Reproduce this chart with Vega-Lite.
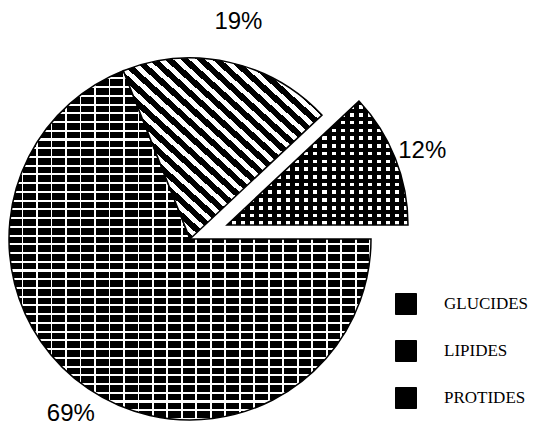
{
"$schema": "https://vega.github.io/schema/vega-lite/v6.json",
"width": 380, "height": 362,
"autosize": {"type": "none"},
"padding": {"left": 0, "top": 58, "right": 156, "bottom": 6},
"background": "white",
"config": {"view": {"stroke": null}},
"data": {"values": [
 {"nutrient": "LIPIDES", "value": 19, "order": 1, "label": "19%"},
 {"nutrient": "PROTIDES", "value": 12, "order": 2, "label": "12%"},
 {"nutrient": "GLUCIDES", "value": 69, "order": 3, "label": "69%"}
]},
"transform": [{"stack": "value", "groupby": [], "sort": [{"field": "order", "order": "ascending"}], "as": ["v0", "v1"]}],
"layer": [
 {"transform": [{"filter": "datum.nutrient == 'GLUCIDES'"}],
  "mark": {"type": "arc", "outerRadius": 181,
   "fill": {"gradient": "linear", "x1": 0, "y1": 0, "x2": 0, "y2": 1, "stops": [
{"offset":0,"color":"#000"},{"offset":0.019,"color":"#000"},{"offset":0.019,"color":"#fff"},{"offset":0.025,"color":"#fff"},
{"offset":0.025,"color":"#000"},{"offset":0.044,"color":"#000"},{"offset":0.044,"color":"#fff"},{"offset":0.05,"color":"#fff"},
{"offset":0.05,"color":"#000"},{"offset":0.069,"color":"#000"},{"offset":0.069,"color":"#fff"},{"offset":0.075,"color":"#fff"},
{"offset":0.075,"color":"#000"},{"offset":0.094,"color":"#000"},{"offset":0.094,"color":"#fff"},{"offset":0.1,"color":"#fff"},
{"offset":0.1,"color":"#000"},{"offset":0.119,"color":"#000"},{"offset":0.119,"color":"#fff"},{"offset":0.125,"color":"#fff"},
{"offset":0.125,"color":"#000"},{"offset":0.144,"color":"#000"},{"offset":0.144,"color":"#fff"},{"offset":0.15,"color":"#fff"},
{"offset":0.15,"color":"#000"},{"offset":0.169,"color":"#000"},{"offset":0.169,"color":"#fff"},{"offset":0.175,"color":"#fff"},
{"offset":0.175,"color":"#000"},{"offset":0.194,"color":"#000"},{"offset":0.194,"color":"#fff"},{"offset":0.2,"color":"#fff"},
{"offset":0.2,"color":"#000"},{"offset":0.219,"color":"#000"},{"offset":0.219,"color":"#fff"},{"offset":0.225,"color":"#fff"},
{"offset":0.225,"color":"#000"},{"offset":0.244,"color":"#000"},{"offset":0.244,"color":"#fff"},{"offset":0.25,"color":"#fff"},
{"offset":0.25,"color":"#000"},{"offset":0.269,"color":"#000"},{"offset":0.269,"color":"#fff"},{"offset":0.275,"color":"#fff"},
{"offset":0.275,"color":"#000"},{"offset":0.294,"color":"#000"},{"offset":0.294,"color":"#fff"},{"offset":0.3,"color":"#fff"},
{"offset":0.3,"color":"#000"},{"offset":0.319,"color":"#000"},{"offset":0.319,"color":"#fff"},{"offset":0.325,"color":"#fff"},
{"offset":0.325,"color":"#000"},{"offset":0.344,"color":"#000"},{"offset":0.344,"color":"#fff"},{"offset":0.35,"color":"#fff"},
{"offset":0.35,"color":"#000"},{"offset":0.369,"color":"#000"},{"offset":0.369,"color":"#fff"},{"offset":0.375,"color":"#fff"},
{"offset":0.375,"color":"#000"},{"offset":0.394,"color":"#000"},{"offset":0.394,"color":"#fff"},{"offset":0.4,"color":"#fff"},
{"offset":0.4,"color":"#000"},{"offset":0.419,"color":"#000"},{"offset":0.419,"color":"#fff"},{"offset":0.425,"color":"#fff"},
{"offset":0.425,"color":"#000"},{"offset":0.444,"color":"#000"},{"offset":0.444,"color":"#fff"},{"offset":0.45,"color":"#fff"},
{"offset":0.45,"color":"#000"},{"offset":0.469,"color":"#000"},{"offset":0.469,"color":"#fff"},{"offset":0.475,"color":"#fff"},
{"offset":0.475,"color":"#000"},{"offset":0.494,"color":"#000"},{"offset":0.494,"color":"#fff"},{"offset":0.5,"color":"#fff"},
{"offset":0.5,"color":"#000"},{"offset":0.519,"color":"#000"},{"offset":0.519,"color":"#fff"},{"offset":0.525,"color":"#fff"},
{"offset":0.525,"color":"#000"},{"offset":0.544,"color":"#000"},{"offset":0.544,"color":"#fff"},{"offset":0.55,"color":"#fff"},
{"offset":0.55,"color":"#000"},{"offset":0.569,"color":"#000"},{"offset":0.569,"color":"#fff"},{"offset":0.575,"color":"#fff"},
{"offset":0.575,"color":"#000"},{"offset":0.594,"color":"#000"},{"offset":0.594,"color":"#fff"},{"offset":0.6,"color":"#fff"},
{"offset":0.6,"color":"#000"},{"offset":0.619,"color":"#000"},{"offset":0.619,"color":"#fff"},{"offset":0.625,"color":"#fff"},
{"offset":0.625,"color":"#000"},{"offset":0.644,"color":"#000"},{"offset":0.644,"color":"#fff"},{"offset":0.65,"color":"#fff"},
{"offset":0.65,"color":"#000"},{"offset":0.669,"color":"#000"},{"offset":0.669,"color":"#fff"},{"offset":0.675,"color":"#fff"},
{"offset":0.675,"color":"#000"},{"offset":0.694,"color":"#000"},{"offset":0.694,"color":"#fff"},{"offset":0.7,"color":"#fff"},
{"offset":0.7,"color":"#000"},{"offset":0.719,"color":"#000"},{"offset":0.719,"color":"#fff"},{"offset":0.725,"color":"#fff"},
{"offset":0.725,"color":"#000"},{"offset":0.744,"color":"#000"},{"offset":0.744,"color":"#fff"},{"offset":0.75,"color":"#fff"},
{"offset":0.75,"color":"#000"},{"offset":0.769,"color":"#000"},{"offset":0.769,"color":"#fff"},{"offset":0.775,"color":"#fff"},
{"offset":0.775,"color":"#000"},{"offset":0.794,"color":"#000"},{"offset":0.794,"color":"#fff"},{"offset":0.8,"color":"#fff"},
{"offset":0.8,"color":"#000"},{"offset":0.819,"color":"#000"},{"offset":0.819,"color":"#fff"},{"offset":0.825,"color":"#fff"},
{"offset":0.825,"color":"#000"},{"offset":0.844,"color":"#000"},{"offset":0.844,"color":"#fff"},{"offset":0.85,"color":"#fff"},
{"offset":0.85,"color":"#000"},{"offset":0.869,"color":"#000"},{"offset":0.869,"color":"#fff"},{"offset":0.875,"color":"#fff"},
{"offset":0.875,"color":"#000"},{"offset":0.894,"color":"#000"},{"offset":0.894,"color":"#fff"},{"offset":0.9,"color":"#fff"},
{"offset":0.9,"color":"#000"},{"offset":0.919,"color":"#000"},{"offset":0.919,"color":"#fff"},{"offset":0.925,"color":"#fff"},
{"offset":0.925,"color":"#000"},{"offset":0.944,"color":"#000"},{"offset":0.944,"color":"#fff"},{"offset":0.95,"color":"#fff"},
{"offset":0.95,"color":"#000"},{"offset":0.969,"color":"#000"},{"offset":0.969,"color":"#fff"},{"offset":0.975,"color":"#fff"},
{"offset":0.975,"color":"#000"},{"offset":0.994,"color":"#000"},{"offset":0.994,"color":"#fff"},{"offset":1,"color":"#fff"}
   ]}},
  "encoding": {
   "theta": {"field": "v0", "type": "quantitative", "scale": {"domain": [0, 100], "range": [-0.37699, 5.90619]}},
   "theta2": {"field": "v1"}
  }
 },
 {"transform": [{"filter": "datum.nutrient == 'GLUCIDES'"}],
  "mark": {"type": "arc", "outerRadius": 181, "stroke": "black", "strokeWidth": 1.5,
   "fill": {"gradient": "linear", "x1": 0, "y1": 0, "x2": 1, "y2": 0, "stops": [
{"offset":0,"color":"rgba(0,0,0,0)"},{"offset":0.035,"color":"rgba(0,0,0,0)"},{"offset":0.035,"color":"#fff"},{"offset":0.04,"color":"#fff"},
{"offset":0.04,"color":"rgba(0,0,0,0)"},{"offset":0.075,"color":"rgba(0,0,0,0)"},{"offset":0.075,"color":"#fff"},{"offset":0.08,"color":"#fff"},
{"offset":0.08,"color":"rgba(0,0,0,0)"},{"offset":0.115,"color":"rgba(0,0,0,0)"},{"offset":0.115,"color":"#fff"},{"offset":0.12,"color":"#fff"},
{"offset":0.12,"color":"rgba(0,0,0,0)"},{"offset":0.155,"color":"rgba(0,0,0,0)"},{"offset":0.155,"color":"#fff"},{"offset":0.16,"color":"#fff"},
{"offset":0.16,"color":"rgba(0,0,0,0)"},{"offset":0.195,"color":"rgba(0,0,0,0)"},{"offset":0.195,"color":"#fff"},{"offset":0.2,"color":"#fff"},
{"offset":0.2,"color":"rgba(0,0,0,0)"},{"offset":0.235,"color":"rgba(0,0,0,0)"},{"offset":0.235,"color":"#fff"},{"offset":0.24,"color":"#fff"},
{"offset":0.24,"color":"rgba(0,0,0,0)"},{"offset":0.275,"color":"rgba(0,0,0,0)"},{"offset":0.275,"color":"#fff"},{"offset":0.28,"color":"#fff"},
{"offset":0.28,"color":"rgba(0,0,0,0)"},{"offset":0.315,"color":"rgba(0,0,0,0)"},{"offset":0.315,"color":"#fff"},{"offset":0.32,"color":"#fff"},
{"offset":0.32,"color":"rgba(0,0,0,0)"},{"offset":0.355,"color":"rgba(0,0,0,0)"},{"offset":0.355,"color":"#fff"},{"offset":0.36,"color":"#fff"},
{"offset":0.36,"color":"rgba(0,0,0,0)"},{"offset":0.395,"color":"rgba(0,0,0,0)"},{"offset":0.395,"color":"#fff"},{"offset":0.4,"color":"#fff"},
{"offset":0.4,"color":"rgba(0,0,0,0)"},{"offset":0.435,"color":"rgba(0,0,0,0)"},{"offset":0.435,"color":"#fff"},{"offset":0.44,"color":"#fff"},
{"offset":0.44,"color":"rgba(0,0,0,0)"},{"offset":0.475,"color":"rgba(0,0,0,0)"},{"offset":0.475,"color":"#fff"},{"offset":0.48,"color":"#fff"},
{"offset":0.48,"color":"rgba(0,0,0,0)"},{"offset":0.515,"color":"rgba(0,0,0,0)"},{"offset":0.515,"color":"#fff"},{"offset":0.52,"color":"#fff"},
{"offset":0.52,"color":"rgba(0,0,0,0)"},{"offset":0.555,"color":"rgba(0,0,0,0)"},{"offset":0.555,"color":"#fff"},{"offset":0.56,"color":"#fff"},
{"offset":0.56,"color":"rgba(0,0,0,0)"},{"offset":0.595,"color":"rgba(0,0,0,0)"},{"offset":0.595,"color":"#fff"},{"offset":0.6,"color":"#fff"},
{"offset":0.6,"color":"rgba(0,0,0,0)"},{"offset":0.635,"color":"rgba(0,0,0,0)"},{"offset":0.635,"color":"#fff"},{"offset":0.64,"color":"#fff"},
{"offset":0.64,"color":"rgba(0,0,0,0)"},{"offset":0.675,"color":"rgba(0,0,0,0)"},{"offset":0.675,"color":"#fff"},{"offset":0.68,"color":"#fff"},
{"offset":0.68,"color":"rgba(0,0,0,0)"},{"offset":0.715,"color":"rgba(0,0,0,0)"},{"offset":0.715,"color":"#fff"},{"offset":0.72,"color":"#fff"},
{"offset":0.72,"color":"rgba(0,0,0,0)"},{"offset":0.755,"color":"rgba(0,0,0,0)"},{"offset":0.755,"color":"#fff"},{"offset":0.76,"color":"#fff"},
{"offset":0.76,"color":"rgba(0,0,0,0)"},{"offset":0.795,"color":"rgba(0,0,0,0)"},{"offset":0.795,"color":"#fff"},{"offset":0.8,"color":"#fff"},
{"offset":0.8,"color":"rgba(0,0,0,0)"},{"offset":0.835,"color":"rgba(0,0,0,0)"},{"offset":0.835,"color":"#fff"},{"offset":0.84,"color":"#fff"},
{"offset":0.84,"color":"rgba(0,0,0,0)"},{"offset":0.875,"color":"rgba(0,0,0,0)"},{"offset":0.875,"color":"#fff"},{"offset":0.88,"color":"#fff"},
{"offset":0.88,"color":"rgba(0,0,0,0)"},{"offset":0.915,"color":"rgba(0,0,0,0)"},{"offset":0.915,"color":"#fff"},{"offset":0.92,"color":"#fff"},
{"offset":0.92,"color":"rgba(0,0,0,0)"},{"offset":0.955,"color":"rgba(0,0,0,0)"},{"offset":0.955,"color":"#fff"},{"offset":0.96,"color":"#fff"},
{"offset":0.96,"color":"rgba(0,0,0,0)"},{"offset":0.995,"color":"rgba(0,0,0,0)"},{"offset":0.995,"color":"#fff"},{"offset":1,"color":"#fff"}
   ]}},
  "encoding": {
   "theta": {"field": "v0", "type": "quantitative", "scale": {"domain": [0, 100], "range": [-0.37699, 5.90619]}},
   "theta2": {"field": "v1"}
  }
 },
 {"transform": [{"filter": "datum.nutrient == 'LIPIDES'"}],
  "mark": {"type": "arc", "outerRadius": 181, "stroke": "black", "strokeWidth": 1.5,
   "fill": {"gradient": "linear", "x1": 0, "y1": 1, "x2": 1, "y2": 0, "stops": [
{"offset":0,"color":"#000"},{"offset":0.022,"color":"#000"},{"offset":0.022,"color":"#fff"},{"offset":0.04,"color":"#fff"},
{"offset":0.04,"color":"#000"},{"offset":0.062,"color":"#000"},{"offset":0.062,"color":"#fff"},{"offset":0.08,"color":"#fff"},
{"offset":0.08,"color":"#000"},{"offset":0.102,"color":"#000"},{"offset":0.102,"color":"#fff"},{"offset":0.12,"color":"#fff"},
{"offset":0.12,"color":"#000"},{"offset":0.142,"color":"#000"},{"offset":0.142,"color":"#fff"},{"offset":0.16,"color":"#fff"},
{"offset":0.16,"color":"#000"},{"offset":0.182,"color":"#000"},{"offset":0.182,"color":"#fff"},{"offset":0.2,"color":"#fff"},
{"offset":0.2,"color":"#000"},{"offset":0.222,"color":"#000"},{"offset":0.222,"color":"#fff"},{"offset":0.24,"color":"#fff"},
{"offset":0.24,"color":"#000"},{"offset":0.262,"color":"#000"},{"offset":0.262,"color":"#fff"},{"offset":0.28,"color":"#fff"},
{"offset":0.28,"color":"#000"},{"offset":0.302,"color":"#000"},{"offset":0.302,"color":"#fff"},{"offset":0.32,"color":"#fff"},
{"offset":0.32,"color":"#000"},{"offset":0.342,"color":"#000"},{"offset":0.342,"color":"#fff"},{"offset":0.36,"color":"#fff"},
{"offset":0.36,"color":"#000"},{"offset":0.382,"color":"#000"},{"offset":0.382,"color":"#fff"},{"offset":0.4,"color":"#fff"},
{"offset":0.4,"color":"#000"},{"offset":0.422,"color":"#000"},{"offset":0.422,"color":"#fff"},{"offset":0.44,"color":"#fff"},
{"offset":0.44,"color":"#000"},{"offset":0.462,"color":"#000"},{"offset":0.462,"color":"#fff"},{"offset":0.48,"color":"#fff"},
{"offset":0.48,"color":"#000"},{"offset":0.502,"color":"#000"},{"offset":0.502,"color":"#fff"},{"offset":0.52,"color":"#fff"},
{"offset":0.52,"color":"#000"},{"offset":0.542,"color":"#000"},{"offset":0.542,"color":"#fff"},{"offset":0.56,"color":"#fff"},
{"offset":0.56,"color":"#000"},{"offset":0.582,"color":"#000"},{"offset":0.582,"color":"#fff"},{"offset":0.6,"color":"#fff"},
{"offset":0.6,"color":"#000"},{"offset":0.622,"color":"#000"},{"offset":0.622,"color":"#fff"},{"offset":0.64,"color":"#fff"},
{"offset":0.64,"color":"#000"},{"offset":0.662,"color":"#000"},{"offset":0.662,"color":"#fff"},{"offset":0.68,"color":"#fff"},
{"offset":0.68,"color":"#000"},{"offset":0.702,"color":"#000"},{"offset":0.702,"color":"#fff"},{"offset":0.72,"color":"#fff"},
{"offset":0.72,"color":"#000"},{"offset":0.742,"color":"#000"},{"offset":0.742,"color":"#fff"},{"offset":0.76,"color":"#fff"},
{"offset":0.76,"color":"#000"},{"offset":0.782,"color":"#000"},{"offset":0.782,"color":"#fff"},{"offset":0.8,"color":"#fff"},
{"offset":0.8,"color":"#000"},{"offset":0.822,"color":"#000"},{"offset":0.822,"color":"#fff"},{"offset":0.84,"color":"#fff"},
{"offset":0.84,"color":"#000"},{"offset":0.862,"color":"#000"},{"offset":0.862,"color":"#fff"},{"offset":0.88,"color":"#fff"},
{"offset":0.88,"color":"#000"},{"offset":0.902,"color":"#000"},{"offset":0.902,"color":"#fff"},{"offset":0.92,"color":"#fff"},
{"offset":0.92,"color":"#000"},{"offset":0.942,"color":"#000"},{"offset":0.942,"color":"#fff"},{"offset":0.96,"color":"#fff"},
{"offset":0.96,"color":"#000"},{"offset":0.982,"color":"#000"},{"offset":0.982,"color":"#fff"},{"offset":1,"color":"#fff"}
   ]}},
  "encoding": {
   "theta": {"field": "v0", "type": "quantitative", "scale": {"domain": [0, 100], "range": [-0.37699, 5.90619]}},
   "theta2": {"field": "v1"}
  }
 },
 {"transform": [{"filter": "datum.nutrient == 'PROTIDES'"}],
  "mark": {"type": "arc", "outerRadius": 181, "xOffset": 37, "yOffset": -14,
   "fill": {"gradient": "linear", "x1": 0, "y1": 0, "x2": 0, "y2": 1, "stops": [
{"offset":0,"color":"#000"},{"offset":0.034,"color":"#000"},{"offset":0.034,"color":"#fff"},{"offset":0.0625,"color":"#fff"},
{"offset":0.0625,"color":"#000"},{"offset":0.0965,"color":"#000"},{"offset":0.0965,"color":"#fff"},{"offset":0.125,"color":"#fff"},
{"offset":0.125,"color":"#000"},{"offset":0.159,"color":"#000"},{"offset":0.159,"color":"#fff"},{"offset":0.1875,"color":"#fff"},
{"offset":0.1875,"color":"#000"},{"offset":0.2215,"color":"#000"},{"offset":0.2215,"color":"#fff"},{"offset":0.25,"color":"#fff"},
{"offset":0.25,"color":"#000"},{"offset":0.284,"color":"#000"},{"offset":0.284,"color":"#fff"},{"offset":0.3125,"color":"#fff"},
{"offset":0.3125,"color":"#000"},{"offset":0.3465,"color":"#000"},{"offset":0.3465,"color":"#fff"},{"offset":0.375,"color":"#fff"},
{"offset":0.375,"color":"#000"},{"offset":0.409,"color":"#000"},{"offset":0.409,"color":"#fff"},{"offset":0.4375,"color":"#fff"},
{"offset":0.4375,"color":"#000"},{"offset":0.4715,"color":"#000"},{"offset":0.4715,"color":"#fff"},{"offset":0.5,"color":"#fff"},
{"offset":0.5,"color":"#000"},{"offset":0.534,"color":"#000"},{"offset":0.534,"color":"#fff"},{"offset":0.5625,"color":"#fff"},
{"offset":0.5625,"color":"#000"},{"offset":0.5965,"color":"#000"},{"offset":0.5965,"color":"#fff"},{"offset":0.625,"color":"#fff"},
{"offset":0.625,"color":"#000"},{"offset":0.659,"color":"#000"},{"offset":0.659,"color":"#fff"},{"offset":0.6875,"color":"#fff"},
{"offset":0.6875,"color":"#000"},{"offset":0.7215,"color":"#000"},{"offset":0.7215,"color":"#fff"},{"offset":0.75,"color":"#fff"},
{"offset":0.75,"color":"#000"},{"offset":0.784,"color":"#000"},{"offset":0.784,"color":"#fff"},{"offset":0.8125,"color":"#fff"},
{"offset":0.8125,"color":"#000"},{"offset":0.8465,"color":"#000"},{"offset":0.8465,"color":"#fff"},{"offset":0.875,"color":"#fff"},
{"offset":0.875,"color":"#000"},{"offset":0.909,"color":"#000"},{"offset":0.909,"color":"#fff"},{"offset":0.9375,"color":"#fff"},
{"offset":0.9375,"color":"#000"},{"offset":0.9715,"color":"#000"},{"offset":0.9715,"color":"#fff"},{"offset":1,"color":"#fff"}
   ]}},
  "encoding": {
   "theta": {"field": "v0", "type": "quantitative", "scale": {"domain": [0, 100], "range": [-0.37699, 5.90619]}},
   "theta2": {"field": "v1"}
  }
 },
 {"transform": [{"filter": "datum.nutrient == 'PROTIDES'"}],
  "mark": {"type": "arc", "outerRadius": 181, "xOffset": 37, "yOffset": -14, "stroke": "black", "strokeWidth": 1.5,
   "fill": {"gradient": "linear", "x1": 0, "y1": 0, "x2": 1, "y2": 0, "stops": [
{"offset":0,"color":"#000"},{"offset":0.0275,"color":"#000"},{"offset":0.0275,"color":"rgba(0,0,0,0)"},{"offset":0.05,"color":"rgba(0,0,0,0)"},
{"offset":0.05,"color":"#000"},{"offset":0.0775,"color":"#000"},{"offset":0.0775,"color":"rgba(0,0,0,0)"},{"offset":0.1,"color":"rgba(0,0,0,0)"},
{"offset":0.1,"color":"#000"},{"offset":0.1275,"color":"#000"},{"offset":0.1275,"color":"rgba(0,0,0,0)"},{"offset":0.15,"color":"rgba(0,0,0,0)"},
{"offset":0.15,"color":"#000"},{"offset":0.1775,"color":"#000"},{"offset":0.1775,"color":"rgba(0,0,0,0)"},{"offset":0.2,"color":"rgba(0,0,0,0)"},
{"offset":0.2,"color":"#000"},{"offset":0.2275,"color":"#000"},{"offset":0.2275,"color":"rgba(0,0,0,0)"},{"offset":0.25,"color":"rgba(0,0,0,0)"},
{"offset":0.25,"color":"#000"},{"offset":0.2775,"color":"#000"},{"offset":0.2775,"color":"rgba(0,0,0,0)"},{"offset":0.3,"color":"rgba(0,0,0,0)"},
{"offset":0.3,"color":"#000"},{"offset":0.3275,"color":"#000"},{"offset":0.3275,"color":"rgba(0,0,0,0)"},{"offset":0.35,"color":"rgba(0,0,0,0)"},
{"offset":0.35,"color":"#000"},{"offset":0.3775,"color":"#000"},{"offset":0.3775,"color":"rgba(0,0,0,0)"},{"offset":0.4,"color":"rgba(0,0,0,0)"},
{"offset":0.4,"color":"#000"},{"offset":0.4275,"color":"#000"},{"offset":0.4275,"color":"rgba(0,0,0,0)"},{"offset":0.45,"color":"rgba(0,0,0,0)"},
{"offset":0.45,"color":"#000"},{"offset":0.4775,"color":"#000"},{"offset":0.4775,"color":"rgba(0,0,0,0)"},{"offset":0.5,"color":"rgba(0,0,0,0)"},
{"offset":0.5,"color":"#000"},{"offset":0.5275,"color":"#000"},{"offset":0.5275,"color":"rgba(0,0,0,0)"},{"offset":0.55,"color":"rgba(0,0,0,0)"},
{"offset":0.55,"color":"#000"},{"offset":0.5775,"color":"#000"},{"offset":0.5775,"color":"rgba(0,0,0,0)"},{"offset":0.6,"color":"rgba(0,0,0,0)"},
{"offset":0.6,"color":"#000"},{"offset":0.6275,"color":"#000"},{"offset":0.6275,"color":"rgba(0,0,0,0)"},{"offset":0.65,"color":"rgba(0,0,0,0)"},
{"offset":0.65,"color":"#000"},{"offset":0.6775,"color":"#000"},{"offset":0.6775,"color":"rgba(0,0,0,0)"},{"offset":0.7,"color":"rgba(0,0,0,0)"},
{"offset":0.7,"color":"#000"},{"offset":0.7275,"color":"#000"},{"offset":0.7275,"color":"rgba(0,0,0,0)"},{"offset":0.75,"color":"rgba(0,0,0,0)"},
{"offset":0.75,"color":"#000"},{"offset":0.7775,"color":"#000"},{"offset":0.7775,"color":"rgba(0,0,0,0)"},{"offset":0.8,"color":"rgba(0,0,0,0)"},
{"offset":0.8,"color":"#000"},{"offset":0.8275,"color":"#000"},{"offset":0.8275,"color":"rgba(0,0,0,0)"},{"offset":0.85,"color":"rgba(0,0,0,0)"},
{"offset":0.85,"color":"#000"},{"offset":0.8775,"color":"#000"},{"offset":0.8775,"color":"rgba(0,0,0,0)"},{"offset":0.9,"color":"rgba(0,0,0,0)"},
{"offset":0.9,"color":"#000"},{"offset":0.9275,"color":"#000"},{"offset":0.9275,"color":"rgba(0,0,0,0)"},{"offset":0.95,"color":"rgba(0,0,0,0)"},
{"offset":0.95,"color":"#000"},{"offset":0.9775,"color":"#000"},{"offset":0.9775,"color":"rgba(0,0,0,0)"},{"offset":1,"color":"rgba(0,0,0,0)"}
   ]}},
  "encoding": {
   "theta": {"field": "v0", "type": "quantitative", "scale": {"domain": [0, 100], "range": [-0.37699, 5.90619]}},
   "theta2": {"field": "v1"}
  }
 },
 {"mark": {"type": "text", "font": "Liberation Sans", "fontSize": 24,
   "radius": {"expr": "datum.nutrient == 'LIPIDES' ? 222 : datum.nutrient == 'PROTIDES' ? 210 : 212"},
   "xOffset": {"expr": "datum.nutrient == 'PROTIDES' ? 37 : 0"},
   "yOffset": {"expr": "datum.nutrient == 'PROTIDES' ? -11 : 0"}},
  "encoding": {
   "theta": {"field": "value", "type": "quantitative", "stack": true, "scale": {"domain": [0, 100], "range": [-0.37699, 5.90619]}},
   "order": {"field": "order", "type": "quantitative"},
   "text": {"field": "label", "type": "nominal"},
   "fill": {"field": "nutrient", "type": "nominal",
    "scale": {"domain": ["GLUCIDES", "LIPIDES", "PROTIDES"], "range": ["#000", "#000", "#000"]},
    "legend": {"title": null, "orient": "none", "legendX": 395, "legendY": 235, "symbolType": "square", "symbolSize": 441, "symbolStrokeColor": "black", "symbolStrokeWidth": 1, "symbolOpacity": 1, "labelFont": "Liberation Serif", "labelFontSize": 17, "labelColor": "black", "labelOffset": 27, "rowPadding": 21, "padding": 0, "labelLimit": 200}
   }
  }
 }
]
}
